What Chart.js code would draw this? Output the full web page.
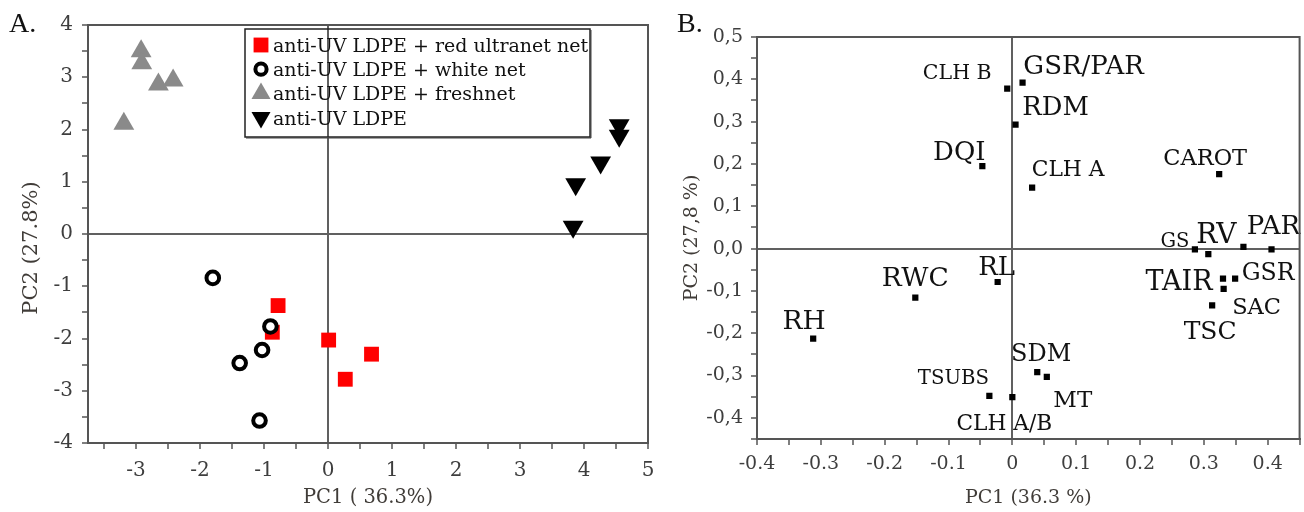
<!DOCTYPE html>
<html><head><meta charset="utf-8">
<script src="https://cdn.jsdelivr.net/npm/chart.js@4/dist/chart.umd.min.js"></script>
<style>
html,body{margin:0;padding:0;background:#fff;width:1304px;height:512px;overflow:hidden}
#wa{position:absolute;left:0;top:0;width:660px;height:512px}
#wb{position:absolute;left:660px;top:0;width:644px;height:512px}
.lab{position:absolute;z-index:5;font-family:"Liberation Serif",serif;font-size:28px;color:#111;line-height:1}
</style></head><body>
<div id="wa"><canvas id="ca"></canvas></div>
<div id="wb"><canvas id="cb"></canvas></div>
<div class="lab" style="left:9px;top:9px">A.</div>
<div class="lab" style="left:677px;top:9px">B.</div>
<script>
// ---------- Panel A: scores ----------
const seriesNames = ['anti-UV LDPE + red ultranet net','anti-UV LDPE + white net','anti-UV LDPE + freshnet','anti-UV LDPE'];
const redX   = [-0.78, -0.87, 0.01, 0.68, 0.27];
const redY   = [-1.37, -1.88, -2.03, -2.30, -2.78];
const whiteX = [-1.80, -0.90, -1.03, -1.38, -1.07];
const whiteY = [-0.84, -1.77, -2.22, -2.47, -3.57];
const freshX = [-2.92, -2.91, -2.65, -2.42, -3.19];
const freshY = [3.50, 3.27, 2.86, 2.94, 2.11];
const ldpeX  = [3.83, 3.87, 4.26, 4.55, 4.55];
const ldpeY  = [0.14, 0.95, 1.37, 2.08, 1.88];
const xTicksA = [-3.5,-3,-2.5,-2,-1.5,-1,-0.5,0,0.5,1,1.5,2,2.5,3,3.5,4,4.5,5];
const yTicksA = [-4,-3.5,-3,-2.5,-2,-1.5,-1,-0.5,0,0.5,1,1.5,2,2.5,3,3.5,4];

// ---------- Panel B: loadings ----------
const varNames = ['CLH B','GSR/PAR','RDM','DQI','CLH A','CAROT','GS','RV','PAR','','GSR','TAIR','SAC','TSC','RL','RWC','RH','SDM','MT','TSUBS','CLH A/B'];
const loadX = [-0.008, 0.016, 0.005, -0.047, 0.031, 0.324, 0.286, 0.307, 0.362, 0.406, 0.349, 0.330, 0.331, 0.313, -0.023, -0.152, -0.312, 0.039, 0.054, -0.036, 0.000];
const loadY = [0.378, 0.392, 0.293, 0.195, 0.144, 0.176, -0.002, -0.013, 0.004, -0.002, -0.071, -0.071, -0.095, -0.134, -0.079, -0.116, -0.213, -0.292, -0.303, -0.348, -0.351];
const xTicksB = [-0.4,-0.35,-0.3,-0.25,-0.2,-0.15,-0.1,-0.05,0,0.05,0.1,0.15,0.2,0.25,0.3,0.35,0.4,0.45];
const yTicksB = [-0.45,-0.4,-0.35,-0.3,-0.25,-0.2,-0.15,-0.1,-0.05,0,0.05,0.1,0.15,0.2,0.25,0.3,0.35,0.4,0.45,0.5];

// label layout (pixel offsets from the marker to the text centre, font sizes)
const labelOffsets = [[-50,-17],[61,-18],[40,-19],[-23,-16],[36,-20],[-14,-17],[-20,-10],[8,-21],[30,-22],[0,0],[33,-7],[-44,2],[33,17],[-2,25],[-1,-16],[0,-21],[-9,-19],[4,-20],[26,22],[-36,-19],[-8,25]];
const labelSizes = [20.5,26,25.8,26,21.8,22.5,19.5,28,26,0,23.6,27,22.5,25,26,26.5,26.6,24,23,19.7,21.7];

const SERIF = '"DejaVu Serif", serif';
const TICKCOL = '#3e3e3e';
const TITLECOL = '#403c38';
const AXCOL = '#555';

const pts = (xs, ys) => xs.map((x, i) => ({x: x, y: ys[i]}));
const isMult = (v, m) => Math.abs(Math.round(v / m) - v / m) < 1e-6;

const framePlugin = {
  id: 'frame',
  afterDraw(chart, args, opts) {
    const {ctx, chartArea: a} = chart;
    ctx.save();
    ctx.strokeStyle = AXCOL; ctx.lineWidth = 2;
    ctx.beginPath();
    ctx.moveTo(a.left, a.top); ctx.lineTo(a.right, a.top); ctx.lineTo(a.right, a.bottom);
    ctx.stroke();
    // vertical axis title, centred slightly below the middle of the axis
    if (opts && opts.yTitle) {
      ctx.translate(opts.yTitle.x, (a.top + a.bottom) / 2 + opts.yTitle.shift);
      ctx.rotate(-Math.PI / 2);
      ctx.fillStyle = TITLECOL;
      ctx.font = opts.yTitle.size + 'px ' + SERIF;
      ctx.textAlign = 'center';
      ctx.textBaseline = 'middle';
      ctx.fillText(opts.yTitle.text, 0, 0);
    }
    ctx.restore();
  }
};

function gridOpts() {
  return {
    drawOnChartArea: true, drawTicks: true, tickLength: 6,
    color: c => (c.tick && Math.abs(c.tick.value) < 1e-9) ? '#606060' : 'rgba(0,0,0,0)',
    lineWidth: 2,
    tickColor: AXCOL, tickWidth: 1.5
  };
}

function drawMarker(ctx, opts, x, y) {
  if (Chart.helpers && Chart.helpers.drawPoint) {
    Chart.helpers.drawPoint(ctx, opts, x, y);
    return;
  }
  ctx.beginPath();
  ctx.arc(x, y, opts.radius, 0, Math.PI * 2);
  ctx.fill();
  if (opts.borderWidth) ctx.stroke();
}

const legendPlugin = {
  id: 'boxLegend',
  afterDraw(chart) {
    const {ctx, chartArea: a} = chart;
    const bx = a.left + 157, by = a.top + 4, bw = 345, bh = 108;
    ctx.save();
    ctx.strokeStyle = '#222'; ctx.lineWidth = 1.5;
    ctx.strokeRect(bx, by, bw, bh);
    ctx.fillStyle = '#444';
    ctx.fillRect(bx + 1, by + bh, bw, 1.5);
    ctx.fillRect(bx + bw, by + 1, 1.5, bh);
    const rowH = 24.2;
    chart.data.datasets.forEach((ds, i) => {
      const cy = by + 16 + i * rowH;
      const mx = bx + 16;
      ctx.fillStyle = ds.backgroundColor;
      ctx.strokeStyle = ds.borderColor;
      ctx.lineWidth = ds.borderWidth;
      drawMarker(ctx, {pointStyle: ds.pointStyle, rotation: ds.rotation || 0,
        radius: ds.legendRadius, borderWidth: ds.borderWidth}, mx, cy);
      ctx.fillStyle = '#111';
      ctx.font = '19px ' + SERIF;
      ctx.textAlign = 'left';
      ctx.textBaseline = 'alphabetic';
      ctx.fillText(ds.label, bx + 28, cy + 7);
    });
    ctx.restore();
  }
};

const labelPlugin = {
  id: 'varLabels',
  afterDatasetsDraw(chart) {
    const ctx = chart.ctx;
    const meta = chart.getDatasetMeta(0);
    ctx.save();
    ctx.fillStyle = '#111';
    ctx.textAlign = 'center';
    ctx.textBaseline = 'alphabetic';
    meta.data.forEach((el, i) => {
      const name = varNames[i];
      if (!name) return;
      const s = labelSizes[i];
      ctx.font = s + 'px ' + SERIF;
      ctx.fillText(name, el.x + labelOffsets[i][0], el.y + labelOffsets[i][1] + 0.729 * s / 2);
    });
    ctx.restore();
  }
};

Chart.defaults.font.family = SERIF;

const fitX = h => s => { s.height = h; s.paddingLeft = 0; s.paddingRight = 0; };
const fitY = w => s => { s.width = w; s.paddingTop = 0; s.paddingBottom = 0; };

new Chart(document.getElementById('ca'), {
  type: 'scatter',
  data: {
    datasets: [
      {label: seriesNames[0], data: pts(redX, redY), pointStyle: 'rect', pointRadius: 10.5, legendRadius: 10.5,
       backgroundColor: '#ff0000', borderColor: '#ff0000', borderWidth: 0, order: 3},
      {label: seriesNames[1], data: pts(whiteX, whiteY), pointStyle: 'circle', pointRadius: 6.3, legendRadius: 5.6,
       backgroundColor: '#ffffff', borderColor: '#000000', borderWidth: 4, order: 1},
      {label: seriesNames[2], data: pts(freshX, freshY), pointStyle: 'triangle', pointRadius: 12, legendRadius: 11,
       backgroundColor: '#8a8a8a', borderColor: '#8a8a8a', borderWidth: 0, order: 2},
      {label: seriesNames[3], data: pts(ldpeX, ldpeY), pointStyle: 'triangle', rotation: 180, pointRadius: 12, legendRadius: 11,
       backgroundColor: '#000000', borderColor: '#000000', borderWidth: 0, order: 2}
    ]
  },
  options: {
    responsive: true, maintainAspectRatio: false, devicePixelRatio: 1,
    animation: false, events: [],
    layout: {padding: {left: 0, right: 7, top: 25, bottom: 0}},
    plugins: {legend: {display: false}, tooltip: {enabled: false},
              frame: {yTitle: {text: 'PC2 (27.8%)', x: 32, shift: 14, size: 21}}},
    scales: {
      x: {
        type: 'linear', min: -3.75, max: 5,
        afterBuildTicks: s => { s.ticks = xTicksA.map(v => ({value: v})); },
        afterFit: fitX(69),
        ticks: {autoSkip: false, maxRotation: 0, padding: 10, color: TICKCOL, font: {size: 20},
                callback: v => Number.isInteger(v) ? String(v) : ''},
        grid: gridOpts(),
        border: {display: true, color: AXCOL, width: 2},
        title: {display: true, text: 'PC1 ( 36.3%)', color: TITLECOL, font: {size: 19.5}, padding: {top: 0, bottom: 2}}
      },
      y: {
        type: 'linear', min: -4, max: 4,
        afterBuildTicks: s => { s.ticks = yTicksA.map(v => ({value: v})); },
        afterFit: fitY(88),
        ticks: {autoSkip: false, padding: 9, color: TICKCOL, font: {size: 20},
                callback: v => Number.isInteger(v) ? String(v) : ''},
        grid: gridOpts(),
        border: {display: true, color: AXCOL, width: 2},
        title: {display: false, text: 'PC2 (27.8%)', color: TITLECOL, font: {size: 21}}
      }
    }
  },
  plugins: [framePlugin, legendPlugin]
});

new Chart(document.getElementById('cb'), {
  type: 'scatter',
  data: {
    datasets: [
      {label: 'loadings', data: pts(loadX, loadY), pointStyle: 'rect', pointRadius: 4.4,
       backgroundColor: '#000000', borderColor: '#000000', borderWidth: 0}
    ]
  },
  options: {
    responsive: true, maintainAspectRatio: false, devicePixelRatio: 1,
    animation: false, events: [],
    layout: {padding: {left: 0, right: 4, top: 37, bottom: 0}},
    plugins: {legend: {display: false}, tooltip: {enabled: false}, frame: {}},
    scales: {
      x: {
        type: 'linear', min: -0.4, max: 0.45,
        afterBuildTicks: s => { s.ticks = xTicksB.map(v => ({value: v})); },
        afterFit: fitX(73),
        ticks: {autoSkip: false, maxRotation: 0, padding: 8, color: TICKCOL, font: {size: 19},
                callback: v => isMult(v, 0.1) ? (Math.abs(v) < 1e-9 ? '0' : v.toFixed(1)) : ''},
        grid: gridOpts(),
        border: {display: true, color: AXCOL, width: 2},
        title: {display: true, text: 'PC1 (36.3 %)', color: TITLECOL, font: {size: 19}, padding: {top: 0, bottom: 3}}
      },
      y: {
        type: 'linear', min: -0.45, max: 0.5,
        afterBuildTicks: s => { s.ticks = yTicksB.map(v => ({value: v})); },
        afterFit: fitY(97),
        ticks: {autoSkip: false, padding: 8, color: TICKCOL, font: {size: 19},
                callback: v => isMult(v, 0.1) ? (Math.abs(v) < 1e-9 ? '0,0' : v.toFixed(1).replace('.', ',')) : ''},
        grid: gridOpts(),
        border: {display: true, color: AXCOL, width: 2},
        title: {display: true, text: 'PC2 (27,8 %)', color: TITLECOL, font: {size: 19}, padding: {top: 21, bottom: 0}}
      }
    }
  },
  plugins: [framePlugin, labelPlugin]
});
</script>
</body></html>
